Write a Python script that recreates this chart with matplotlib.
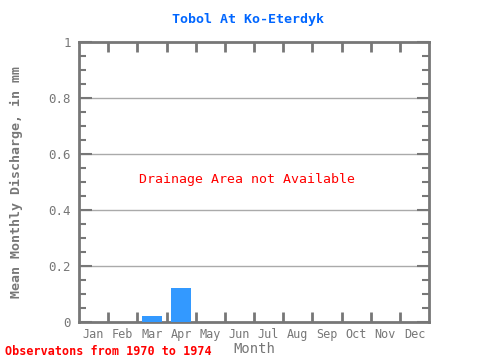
import matplotlib
matplotlib.use("Agg")
import matplotlib.pyplot as plt
from matplotlib.ticker import MultipleLocator, FixedLocator

months = ['Jan', 'Feb', 'Mar', 'Apr', 'May', 'Jun', 'Jul', 'Aug', 'Sep', 'Oct', 'Nov', 'Dec']
discharge = [0, 0, 0.021, 0.12, 0, 0, 0, 0, 0, 0, 0, 0]
yticks = [0, 0.2, 0.4, 0.6, 0.8, 1]
ylabels = ['0', '0.2', '0.4', '0.6', '0.8', '1']

gray = '#777777'
plt.rcParams['font.family'] = ['DejaVu Sans Mono']

fig = plt.figure(figsize=(4.8, 3.6), dpi=100)
ax = fig.add_axes([0.1646, 0.1056, 0.7292, 0.7778])

x = [i + 0.5 for i in range(len(months))]
ax.bar(x, discharge, width=0.68, color='#3399ff', zorder=3)

ax.set_xlim(0, 12)
ax.set_ylim(0, 1)

ax.xaxis.set_major_locator(FixedLocator(range(1, 12)))
ax.xaxis.set_minor_locator(FixedLocator(x))
ax.set_xticklabels([])
ax.set_xticklabels(months, minor=True)
ax.tick_params(axis='x', which='major', direction='in', length=7, width=2,
               color=gray, top=True, bottom=True)
ax.tick_params(axis='x', which='minor', length=0, labelsize=8.5, labelcolor=gray, pad=4)

ax.set_yticks(yticks)
ax.set_yticklabels(ylabels)
ax.yaxis.set_minor_locator(MultipleLocator(0.05))
ax.tick_params(axis='y', which='major', direction='in', length=9, width=1.5,
               color=gray, left=True, right=True, labelsize=9, labelcolor=gray, pad=6)
ax.tick_params(axis='y', which='minor', direction='in', length=5, width=1.5,
               color=gray, left=True, right=True)

for v in [0.2, 0.4, 0.6, 0.8]:
    ax.axhline(v, color='#aaaaaa', lw=1, zorder=1)

for s in ax.spines.values():
    s.set_color(gray)
    s.set_linewidth(2)

ax.set_title('Tobol At Ko-Eterdyk', color='#0066ff', fontsize=9.5, fontweight='bold',
             pad=14, x=0.482)
ax.set_xlabel('Month', color=gray, fontsize=10, labelpad=1)
ax.set_ylabel('Mean Monthly Discharge, in mm', color=gray, fontsize=9.5, fontweight='bold', labelpad=18)

ax.text(0.481, 0.51, 'Drainage Area not Available', transform=ax.transAxes,
        ha='center', va='center', color='#ff0000', fontsize=9.5)
fig.text(0.01, 0.005, 'Observatons from 1970 to 1974', color='#ff0000',
         fontsize=8.5, fontweight='bold', ha='left', va='bottom')

fig.savefig('out.png', dpi=100)
